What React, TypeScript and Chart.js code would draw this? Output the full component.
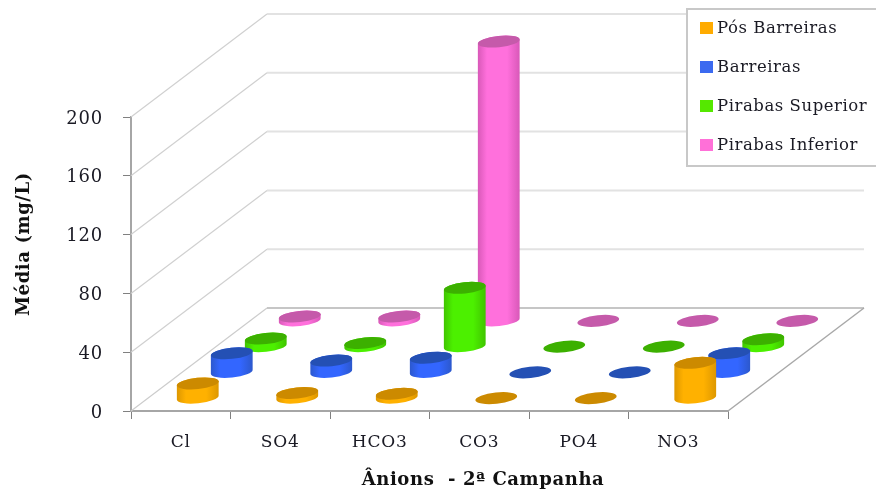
import React, { useEffect, useRef } from "react";
import { Chart, registerables } from "chart.js";

Chart.register(...registerables);

const categories = ["Cl", "SO4", "HCO3", "CO3", "PO4", "NO3"];
const seriesNames = ["Pós Barreiras", "Barreiras", "Pirabas Superior", "Pirabas Inferior"];
const posBarreiras = [10, 3.5, 3, 0, 0, 24];
const barreiras = [13, 8, 10, 0, 0, 13];
const pirabasSuperior = [5.5, 2.5, 40, 0, 0, 5];
const pirabasInferior = [3, 3, 190, 0, 0, 0];
const seriesValues = [posBarreiras, barreiras, pirabasSuperior, pirabasInferior];

const legendColors = ["#ffab00", "#3b6af0", "#55e800", "#ff70d8"];
const edgeColors = ["#dd9700", "#2c58cc", "#40c400", "#d858b8"];
const centerColors = ["#ffb100", "#3366ff", "#4cf000", "#ff70dc"];
const capColors = ["#cc8a00", "#2450b4", "#3cb000", "#c55aaa"];

const xTitle = "Ânions  - 2ª Campanha";
const yTitle = "Média (mg/L)";

const FONT = '"DejaVu Serif"';
const TEXT = "#1a1a24";
const DEPTH_X = 136;
const DEPTH_Y = -103;
const RX = 21;
const RY = 5.6;
const TILT = (-6 * Math.PI) / 180;

// Walls and floor of the box, behind the cylinders.
const boxPlugin = {
  id: "box",
  beforeDraw(chart: any) {
    chart.ctx.letterSpacing = "0.8px";
  },
  beforeDatasetsDraw(chart: any) {
    const { ctx, chartArea: a, scales } = chart;
    const y = scales.y;
    ctx.save();
    for (const tick of y.ticks) {
      const py = y.getPixelForValue(tick.value);
      if (tick.value === 0) continue;
      ctx.beginPath();
      ctx.moveTo(a.left, py);
      ctx.lineTo(a.left + DEPTH_X, py + DEPTH_Y);
      ctx.strokeStyle = "#d0d0d0";
      ctx.lineWidth = 1.2;
      ctx.stroke();
      ctx.beginPath();
      ctx.moveTo(a.left + DEPTH_X, py + DEPTH_Y);
      ctx.lineTo(a.right + DEPTH_X, py + DEPTH_Y);
      ctx.strokeStyle = "#e2e2e2";
      ctx.lineWidth = 2;
      ctx.stroke();
    }
    const y0 = y.getPixelForValue(0);
    ctx.beginPath();
    ctx.moveTo(a.left, y0);
    ctx.lineTo(a.left + DEPTH_X, y0 + DEPTH_Y);
    ctx.strokeStyle = "#cccccc";
    ctx.lineWidth = 1.2;
    ctx.stroke();
    ctx.beginPath();
    ctx.moveTo(a.left + DEPTH_X, y0 + DEPTH_Y);
    ctx.lineTo(a.right + DEPTH_X, y0 + DEPTH_Y);
    ctx.strokeStyle = "#c6c6c6";
    ctx.lineWidth = 2;
    ctx.stroke();
    ctx.beginPath();
    ctx.moveTo(a.right, y0);
    ctx.lineTo(a.right + DEPTH_X, y0 + DEPTH_Y);
    ctx.strokeStyle = "#a8a8a8";
    ctx.lineWidth = 1.5;
    ctx.stroke();
    ctx.restore();
  },
};

function drawCylinder(ctx: any, x: number, top: number, base: number, series: number) {
  if (base - top > 0.5) {
    const grad = ctx.createLinearGradient(x - RX, 0, x + RX, 0);
    grad.addColorStop(0, edgeColors[series]);
    grad.addColorStop(0.22, centerColors[series]);
    grad.addColorStop(0.7, centerColors[series]);
    grad.addColorStop(1, edgeColors[series]);
    ctx.beginPath();
    ctx.ellipse(x, base, RX, RY, TILT, Math.PI, 0, true);
    ctx.ellipse(x, top, RX, RY, TILT, 0, Math.PI, true);
    ctx.closePath();
    ctx.fillStyle = grad;
    ctx.fill();
  }
  ctx.beginPath();
  ctx.ellipse(x, top, RX, RY, TILT, 0, Math.PI * 2);
  ctx.fillStyle = capColors[series];
  ctx.fill();
}

// Each dataset's bar elements give the value positions; the row is pushed back along the depth axis.
const cylinderPlugin = {
  id: "cylinders",
  afterDatasetsDraw(chart: any) {
    const { ctx } = chart;
    const rows = chart.data.datasets.length;
    ctx.save();
    for (let s = rows - 1; s >= 0; s--) {
      const f = (s + 0.5) / rows;
      const meta = chart.getDatasetMeta(s);
      meta.data.forEach((bar: any) => {
        drawCylinder(ctx, bar.x + DEPTH_X * f, bar.y + DEPTH_Y * f, bar.base + DEPTH_Y * f, s);
      });
    }
    ctx.restore();
  },
};

const legendPlugin = {
  id: "boxedLegend",
  afterDatasetsDraw(chart: any) {
    const { ctx } = chart;
    ctx.save();
    ctx.fillStyle = "#ffffff";
    ctx.strokeStyle = "#c8c8c8";
    ctx.lineWidth = 2;
    ctx.beginPath();
    ctx.rect(687, 9, 200, 157);
    ctx.fill();
    ctx.stroke();
    ctx.font = `16.5px ${FONT}`;
    ctx.letterSpacing = "0.55px";
    ctx.textBaseline = "middle";
    chart.data.datasets.forEach((d: any, i: number) => {
      const cy = 28 + i * 39;
      ctx.fillStyle = legendColors[i];
      ctx.fillRect(700, cy - 6, 13, 12);
      ctx.fillStyle = TEXT;
      ctx.fillText(d.label, 717, cy + 1);
    });
    ctx.restore();
  },
};

const titlesPlugin = {
  id: "axisCaptions",
  afterDraw(chart: any) {
    const { ctx } = chart;
    ctx.save();
    ctx.font = `bold 18px ${FONT}`;
    ctx.letterSpacing = "0.6px";
    ctx.fillStyle = "#111111";
    ctx.textAlign = "center";
    ctx.textBaseline = "middle";
    ctx.fillText(xTitle, 483, 480);
    ctx.translate(24, 244);
    ctx.rotate(-Math.PI / 2);
    ctx.fillText(yTitle, 0, 0);
    ctx.restore();
  },
};

export default function App() {
  const ref = useRef<HTMLCanvasElement>(null);
  useEffect(() => {
    const chart = new Chart(ref.current as any, {
      type: "bar",
      data: {
        labels: categories,
        datasets: seriesNames.map((label, i) => ({
          label,
          data: seriesValues[i],
          backgroundColor: "transparent",
          borderWidth: 0,
          grouped: false,
        })),
      },
      options: {
        responsive: false,
        animation: false,
        layout: { padding: { left: 0, right: 148, top: 117, bottom: 0 } },
        plugins: { legend: { display: false }, tooltip: { enabled: false }, title: { display: false } },
        scales: {
          x: {
            afterFit: (s: any) => { s.height = 84; },
            border: { color: "#a6a6a6", width: 2 },
            grid: { drawOnChartArea: false, color: "#808080", tickLength: 8 },
            ticks: { color: TEXT, font: { family: FONT, size: 17 }, padding: 13, maxRotation: 0 },
          },
          y: {
            min: 0,
            max: 200,
            afterFit: (s: any) => { s.width = 131; },
            border: { color: "#a6a6a6", width: 2 },
            grid: { drawOnChartArea: false, color: "#808080", tickLength: 8 },
            ticks: { color: TEXT, stepSize: 40, font: { family: FONT, size: 18 }, padding: 20, labelOffset: 2 },
          },
        },
      },
      plugins: [boxPlugin, cylinderPlugin, legendPlugin, titlesPlugin],
    } as any);
    return () => chart.destroy();
  }, []);
  return (
    <div style={{ position: "fixed", left: 0, top: 0, width: 876, height: 495, background: "#fff" }}>
      <canvas ref={ref} width={876} height={495} style={{ display: "block" }} />
    </div>
  );
}
